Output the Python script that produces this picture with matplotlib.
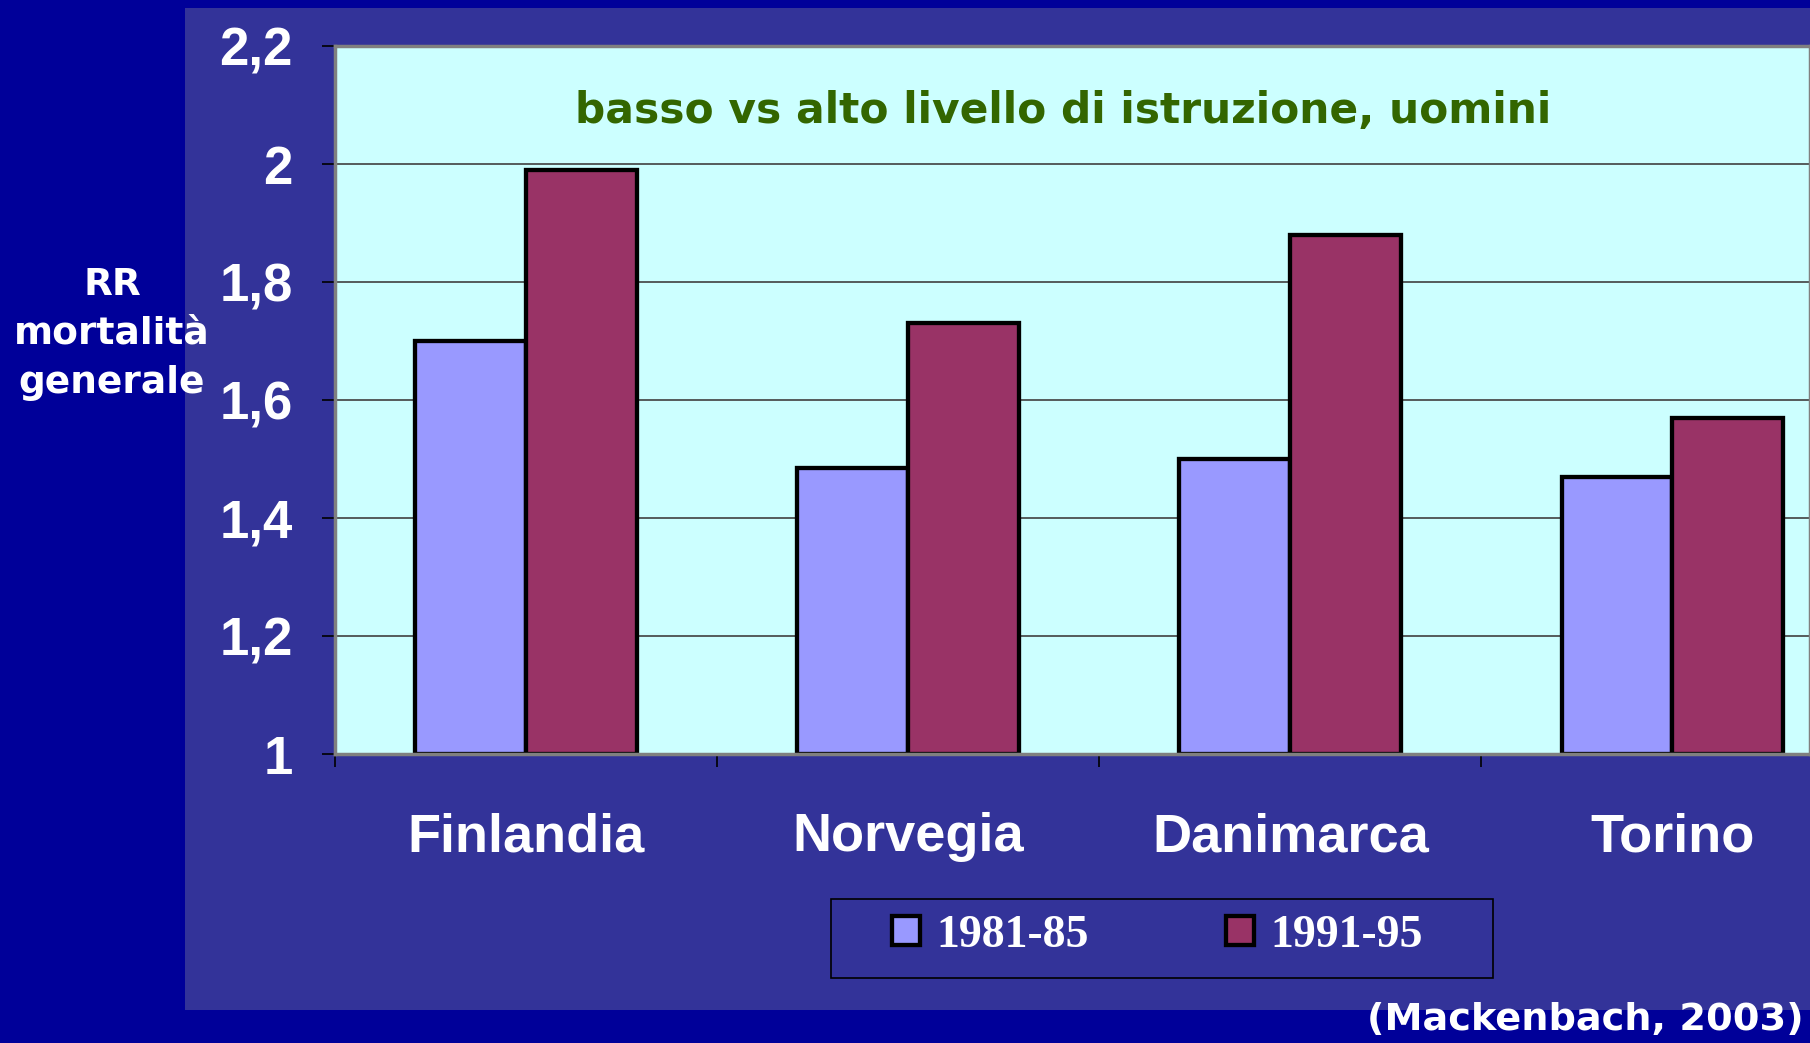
import numpy as np
import matplotlib
matplotlib.use("Agg")
import matplotlib.pyplot as plt
from matplotlib.patches import Rectangle
from matplotlib.transforms import blended_transform_factory

# Data
countries = ["Finlandia", "Norvegia", "Danimarca", "Torino"]
rr_1981 = [1.70, 1.485, 1.50, 1.47]
rr_1991 = [1.99, 1.73, 1.88, 1.57]
periods = ["1981-85", "1991-95"]
yticks = [1.0, 1.2, 1.4, 1.6, 1.8, 2.0, 2.2]
ytick_labels = ["1", "1,2", "1,4", "1,6", "1,8", "2", "2,2"]

W, H = 1810, 1043
fig = plt.figure(figsize=(W / 100, H / 100), dpi=100, facecolor="#000099")

# chart panel
fig.patches.append(Rectangle((185 / W, 1 - 1010 / H), (W - 185) / W, (1010 - 8) / H,
                             transform=fig.transFigure, facecolor="#333399",
                             edgecolor="none", zorder=-5))

ax = fig.add_axes([335 / W, 1 - 754 / H, 1 - 335 / W, (754 - 46) / H])
ax.set_facecolor("#CCFFFF")

x = np.arange(len(countries))
bw = 0.29
edge = dict(edgecolor="black", linewidth=3.1)
ax.bar(x - bw / 2, np.array(rr_1981) - 1, bw, bottom=1, color="#9999FF", label=periods[0], **edge)
ax.bar(x + bw / 2, np.array(rr_1991) - 1, bw, bottom=1, color="#993366", label=periods[1], **edge)

ax.set_xlim(-0.5, 3.36)
ax.set_ylim(1, 2.2)
ax.set_axisbelow(True)
ax.yaxis.grid(True, color="#404040", linewidth=1.2)

for s in ax.spines.values():
    s.set_color("#808080")
    s.set_linewidth(2.5)

ax.set_yticks(yticks)
ax.set_yticklabels(ytick_labels, family="Liberation Sans", fontweight="bold",
                   fontsize=38, color="white")
ax.tick_params(axis="y", length=9.5, width=1.2, color="black", pad=21)
ax.set_xticks(np.arange(-0.5, 3.5, 1.0))
ax.set_xticklabels([])
ax.tick_params(axis="x", length=9.5, width=1.2, color="black")

tr = blended_transform_factory(ax.transData, fig.transFigure)
for i, c in enumerate(countries):
    ax.text(i, 1 - 851 / H, c, transform=tr, ha="center", va="baseline",
            family="Liberation Sans", fontweight="bold", fontsize=39, color="white")

ax.text(1063 / W, 1 - 111 / H, "basso vs alto livello di istruzione, uomini",
        transform=fig.transFigure, ha="center", va="center",
        fontweight="bold", fontsize=30.5, color="#336600")

fig.text(112 / W, 1 - 334 / H, "RR\nmortalità\ngenerale", ha="center", va="center",
         fontweight="bold", fontsize=27, color="white", linespacing=1.48)

fig.text(1804 / W, 1 - 1020 / H, "(Mackenbach, 2003)", ha="right", va="center",
         fontweight="bold", fontsize=27.5, color="white")

# legend
fig.patches.append(Rectangle((831 / W, 1 - 978 / H), (1493 - 831) / W, (978 - 899) / H,
                             transform=fig.transFigure, facecolor="none",
                             edgecolor="black", linewidth=1.2, zorder=1))
fig.legend(loc="center left", bbox_to_anchor=(869 / W, 1 - 936 / H), ncol=2,
           frameon=False, borderpad=0, handlelength=0.61, handleheight=0.6,
           handletextpad=0.35, columnspacing=3.0,
           prop={"family": "Liberation Serif", "weight": "bold", "size": 33},
           labelcolor="white")

fig.savefig("out.png", dpi=100, facecolor=fig.get_facecolor())
